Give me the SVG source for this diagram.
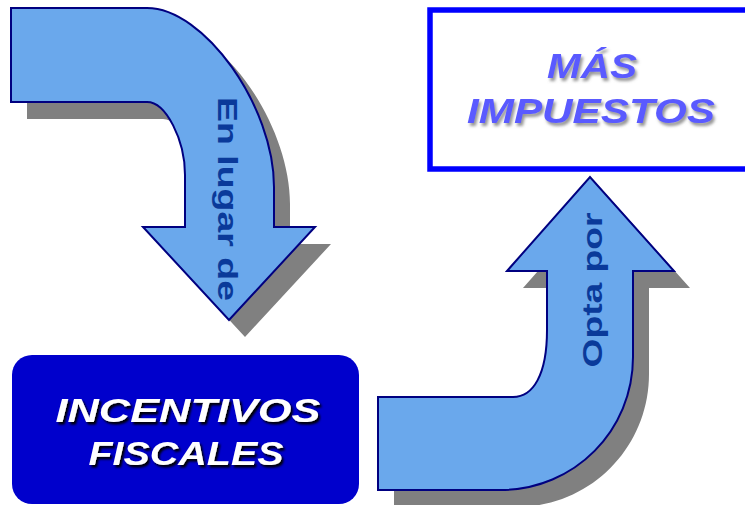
<svg xmlns="http://www.w3.org/2000/svg" width="745" height="505" viewBox="0 0 745 505">
  <defs>
    <filter id="softShadow" x="-10%" y="-30%" width="120%" height="160%">
      <feDropShadow dx="2" dy="3" stdDeviation="1.5" flood-color="#8a8a8a" flood-opacity="0.9"/>
    </filter>
    <filter id="darkShadow" x="-10%" y="-30%" width="120%" height="160%">
      <feDropShadow dx="2" dy="2.5" stdDeviation="0.8" flood-color="#000000" flood-opacity="1"/>
    </filter>
  </defs>
  <style>
    .shadow { fill: #808080; stroke: none; }
    .arrow { fill: #6aa8ec; stroke: #000080; stroke-width: 2; stroke-linejoin: miter; }
    .albl { font-family: "Liberation Sans", Arial, sans-serif; font-weight: bold; font-size: 28px; fill: #0a3a9a; text-anchor: middle; }
    .top { font-family: "Liberation Sans", Arial, sans-serif; font-weight: bold; font-style: italic; font-size: 35px; fill: #5a5aff; text-anchor: middle; filter: url(#softShadow); }
    .bot { font-family: "Liberation Sans", Arial, sans-serif; font-weight: bold; font-style: italic; font-size: 34px; fill: #ffffff; text-anchor: middle; filter: url(#darkShadow); }
  </style>
  <rect width="745" height="505" fill="#ffffff"/>

  <g id="connectors">
    <g id="arrow-en-lugar-de">
      <path class="shadow" transform="translate(16,17)" d="M11,8 H147 C204,8 274,106 274,187 V227 H315 L229,320 L143,227 H185 V175 C185,140 166,102 147,102 H11 Z"/>
      <path class="arrow" d="M11,8 H147 C204,8 274,106 274,187 V227 H315 L229,320 L143,227 H185 V175 C185,140 166,102 147,102 H11 Z"/>
      <text class="albl" transform="translate(218,199) rotate(90)" textLength="204" lengthAdjust="spacingAndGlyphs">En lugar de</text>
    </g>
    <g id="arrow-opta-por">
      <path class="shadow" transform="translate(16,17)" d="M378,397 H513 C533,397 547,375 547,330 V271 H507 L590,177 L674,271 H633 V357 C633,430 575,490 500,490 H378 Z"/>
      <path class="arrow" d="M378,397 H513 C533,397 547,375 547,330 V271 H507 L590,177 L674,271 H633 V357 C633,430 575,490 500,490 H378 Z"/>
      <text class="albl" transform="translate(602,290) rotate(-90)" textLength="155" lengthAdjust="spacingAndGlyphs">Opta por</text>
    </g>
  </g>

  <g id="node-mas-impuestos">
    <rect x="430" y="10" width="340" height="159" fill="#ffffff" stroke="#0000ff" stroke-width="5.5"/>
    <text class="top" x="592" y="78" textLength="90" lengthAdjust="spacingAndGlyphs">MÁS</text>
    <text class="top" x="591" y="123" textLength="248" lengthAdjust="spacingAndGlyphs">IMPUESTOS</text>
  </g>

  <g id="node-incentivos-fiscales">
    <rect x="12" y="355" width="347" height="149" rx="20" ry="20" fill="#0000cc"/>
    <text class="bot" x="188" y="422" textLength="265" lengthAdjust="spacingAndGlyphs">INCENTIVOS</text>
    <text class="bot" x="186" y="465" textLength="195" lengthAdjust="spacingAndGlyphs">FISCALES</text>
  </g>
</svg>
